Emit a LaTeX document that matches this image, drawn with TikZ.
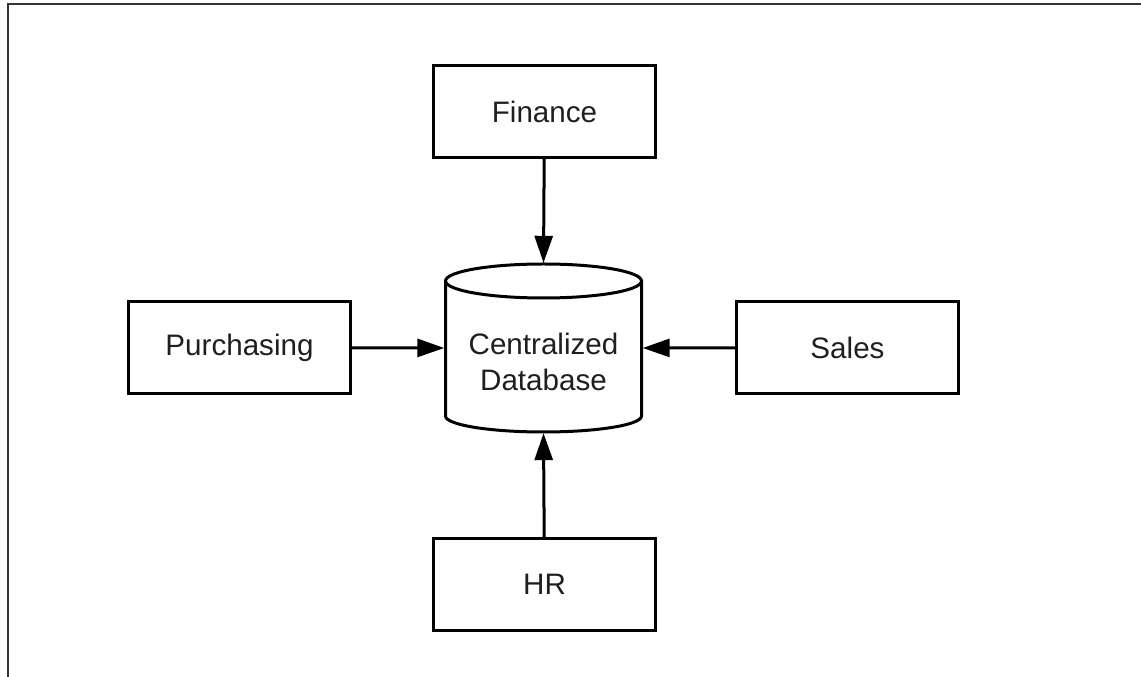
\documentclass[tikz,border=0pt]{standalone}
\usepackage{fontspec}
\setmainfont{Liberation Sans}
\usetikzlibrary{arrows.meta}
\begin{document}
\begin{tikzpicture}[x=1pt,y=1pt,
  box/.style={draw=black, line width=3.2pt, minimum width=222pt, minimum height=92pt, inner sep=0pt,
    font=\fontsize{29.6}{36}\selectfont, text=black!88},
  dbtext/.style={align=center, inner sep=0pt, font=\fontsize{29.6}{36}\selectfont, text=black!88},
  conn/.style={line width=3pt, -{Triangle[length=27pt,width=18pt]}, shorten >=1pt},
  frame/.style={draw=black!80, line width=2pt}]
\useasboundingbox (0,0) rectangle (1141,677);
% frame (top and left edges)
\draw[frame] (7.5,0) -- (7.5,672.5) -- (1141,672.5);
% boxes
\node[box] (fin) at (544.5,565.5) {Finance};
\node[box] (pur) at (239.5,329.5) {Purchasing};
\node[box] (sal) at (847.5,329.5) {Sales};
\node[box] (hr) at (544.5,92.5) {HR};
% database cylinder
\node[minimum width=196pt, minimum height=168pt, inner sep=0pt] (db) at (543.5,329) {};
\draw[line width=3pt, fill=white] (445.5,396) -- (445.5,261) arc[start angle=180, end angle=360, x radius=98, y radius=16] -- (641.5,396);
\draw[line width=3pt] (543.5,396) ellipse[x radius=98, y radius=17];
\node[dbtext] (dbt) at (543.5,315) {Centralized\\Database};
% connectors
\draw[conn] (fin) -- (db.north);
\draw[conn] (pur) -- (db.west);
\draw[conn] (sal) -- (db.east);
\draw[conn] (hr) -- (db.south);
\end{tikzpicture}
\end{document}
